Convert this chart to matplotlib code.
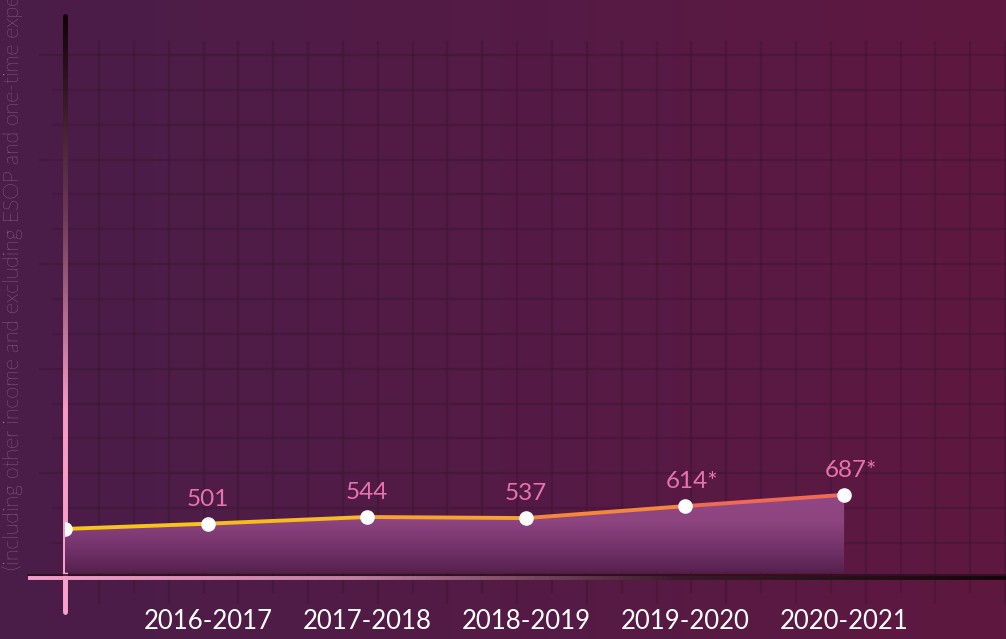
import numpy as np
import matplotlib.pyplot as plt
from matplotlib.collections import LineCollection
from matplotlib.colors import LinearSegmentedColormap
from matplotlib.patches import Polygon

# data
periods = ["2016-2017", "2017-2018", "2018-2019", "2019-2020", "2020-2021"]
x_pos = [-0.9, 0, 1, 2, 3, 4]          # first point is the un-labelled start of the line
values = [467, 501, 544, 537, 614, 687]
labels = ["", "501", "544", "537", "614*", "687*"]
ylabel = "(including other income and excluding ESOP and one-time expenses)"

W, H = 1006, 639
fig = plt.figure(figsize=(W / 100, H / 100), dpi=100)
plt.rcParams['font.family'] = ['Lato', 'DejaVu Sans']

# background (pixel coordinates)
bg = fig.add_axes([0, 0, 1, 1])
bg.set_xlim(0, W)
bg.set_ylim(H, 0)
bg.axis('off')
bg_cmap = LinearSegmentedColormap.from_list('bg', ['#4a1d49', '#541b46', '#5f1840'])
grad = np.tile(np.linspace(0, 1, 256), (2, 1))
bg.imshow(grad, cmap=bg_cmap, extent=[0, W, H, 0], aspect='auto', zorder=0)

# decorative grid
gx = 99 + 34.85 * np.arange(27)
gy = 55 + 34.86 * np.arange(15)
for i, x in enumerate(gx):
    bg.plot([x, x], [42, 592 if i % 2 else 603], color='#3a1632', lw=1.6, alpha=0.45, zorder=1)
for i, y in enumerate(gy):
    bg.plot([40 if i % 3 == 0 else 53, W], [y, y], color='#3a1632', lw=1.6, alpha=0.45, zorder=1)

# vertical axis line: dark at top, pink at bottom
vcm = LinearSegmentedColormap.from_list('v', ['#120208', '#6b3a55', '#f59cc6', '#f7a3cb'])
vy = np.linspace(16, 612, 200)
vseg = [[(65, vy[i]), (65, vy[i + 1])] for i in range(len(vy) - 1)]
bg.add_collection(LineCollection(vseg, colors=vcm(np.linspace(0, 1, len(vseg))),
                                 linewidths=3.5, capstyle='round', zorder=3))

# horizontal axis line: pink at left, dark at right
hcm = LinearSegmentedColormap.from_list('h', ['#f3a0c8', '#c0809f', '#3a1a28', '#140608'])
hx = np.linspace(28, W, 200)
bg.plot([28, W], [575, 575], color='#2a0f20', lw=1.2, zorder=3)
hseg = [[(hx[i], 577.5), (hx[i + 1], 577.5)] for i in range(len(hx) - 1)]
bg.add_collection(LineCollection(hseg, colors=hcm(np.linspace(0, 1, len(hseg))),
                                 linewidths=2.8, zorder=3))

# rotated note on the left (runs off the top edge, as in the original)
bg.text(13, 570, ylabel, rotation=90, ha='center', va='bottom',
        color='#b8a0b4', fontsize=15.3, fontweight='light', zorder=2)

# data axes
ax = fig.add_axes([65 / W, (H - 577) / H, (W - 65) / W, (577 - 16) / H])
ax.patch.set_alpha(0)
ax.set_xlim(-0.9, -0.9 + (W - 65) / 159)
ax.set_ylim(157, 3775)
for s in ax.spines.values():
    s.set_visible(False)
ax.set_yticks([])
ax.set_xticks(range(len(periods)))
ax.set_xticklabels(periods, color='white', fontsize=18.5)
ax.tick_params(axis='x', length=0, pad=23)

# gradient filled area
fill_cmap = LinearSegmentedColormap.from_list('fill', ['#56214e', '#74336b', '#8d447f', '#904783'])
poly = Polygon(list(zip(x_pos, values)) + [(x_pos[-1], 185), (x_pos[0], 185)],
               closed=True, facecolor='none', edgecolor='none')
ax.add_patch(poly)
fgrad = np.linspace(0, 1, 256).reshape(-1, 1)
im = ax.imshow(fgrad, cmap=fill_cmap, origin='lower', aspect='auto',
               extent=[x_pos[0], x_pos[-1], 185, max(values)], zorder=2)
im.set_clip_path(poly)

# gradient line
pts = np.column_stack([x_pos, values])
segs = [pts[i:i + 2] for i in range(len(pts) - 1)]
seg_colors = ['#f7c51a', '#f6bb22', '#f5a42e', '#f4873c', '#ef6a55']
ax.add_collection(LineCollection(segs, colors=seg_colors, linewidths=2.8, zorder=3))
ax.plot(x_pos, values, 'o', color='white', ms=9.5, zorder=4)

for x, v, lab in zip(x_pos, values, labels):
    if not lab:
        continue
    dx = 5 if lab.endswith('*') else 0
    ax.annotate(lab, (x, v), xytext=(dx, 10), textcoords='offset points',
                ha='center', va='bottom', color='#e673ad', fontsize=17.5, zorder=5)

fig.savefig('out.png', dpi=100)
